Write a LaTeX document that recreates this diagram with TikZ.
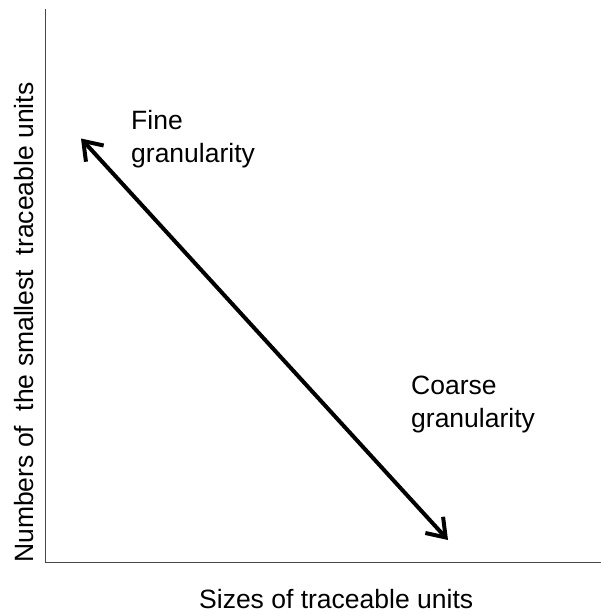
\documentclass[tikz,border=0pt]{standalone}
\usepackage{fontspec}
\setmainfont{Liberation Sans}
\usetikzlibrary{arrows.meta}
\begin{document}
\begin{tikzpicture}[x=1pt,y=-1pt,
  axisline/.style={draw=black!72,line width=1.5pt},
  trend/.style={line width=4pt,{Straight Barb[length=17pt,width=24pt]}-{Straight Barb[length=17pt,width=24pt]}},
  lbl/.style={inner sep=0pt,font=\fontsize{26.5}{32.5}\selectfont,align=left}]
  \useasboundingbox (0,0) rectangle (601,613);
  \fill[white] (0,0) rectangle (601,613);
  % axes
  \coordinate (top) at (45.7,9);
  \coordinate (origin) at (45.7,562.3);
  \coordinate (right) at (601,562.3);
  \draw[axisline] (top) -- (origin) -- (right);
  % granularity trend
  \coordinate (fine) at (81,138.5);
  \coordinate (coarse) at (448,540);
  \draw[trend] (fine) -- (coarse);
  % labels (base anchor sits on the last line)
  \node[lbl,anchor=base west] (finelbl) at (131,162) {Fine\\granularity};
  \node[lbl,anchor=base west] (coarselbl) at (411,427) {Coarse\\granularity};
  \node[lbl,anchor=base west] (xlbl) at (199,608) {Sizes of traceable units};
  \node[lbl,anchor=base west,rotate=90] (ylbl) at (33,563) {Numbers of\ \ the smallest\ \ traceable units};
\end{tikzpicture}
\end{document}
